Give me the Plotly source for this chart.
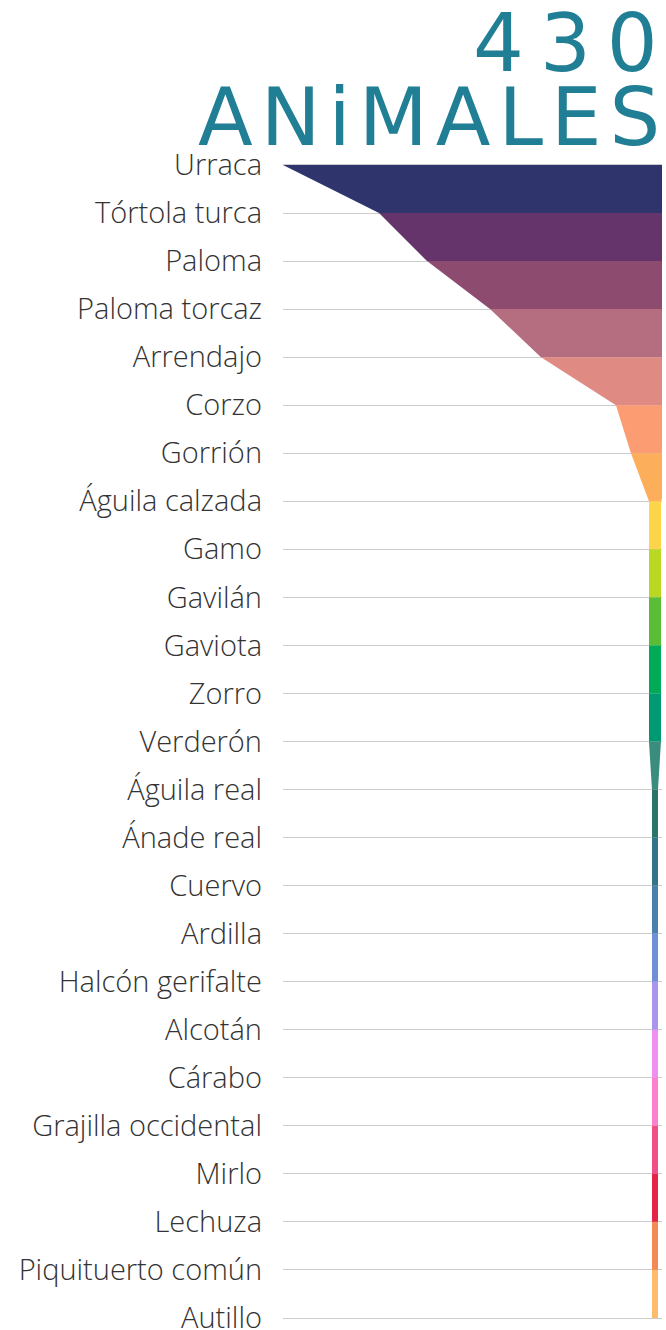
import plotly.graph_objects as go

categories = ["Urraca", "Tórtola turca", "Paloma", "Paloma torcaz", "Arrendajo", "Corzo",
              "Gorrión", "Águila calzada", "Gamo", "Gavilán", "Gaviota", "Zorro", "Verderón",
              "Águila real", "Ánade real", "Cuervo", "Ardilla", "Halcón gerifalte", "Alcotán",
              "Cárabo", "Grajilla occidental", "Mirlo", "Lechuza", "Piquituerto común", "Autillo"]
values = [124, 92, 76, 55, 38, 13, 8, 2, 2, 2, 2, 2, 2,
          1, 1, 1, 1, 1, 1, 1, 1, 1, 1, 1, 1]
band_colors = ["#2f346c", "#64346a", "#8c4b6f", "#b56e80", "#e08a84", "#fb9c73",
               "#fdae5a", "#fed44a", "#b8d823", "#5bbd35", "#00ab57", "#009a72",
               "#3a8c7c", "#2b7468", "#327488", "#4a80ab", "#6f8fd8", "#a995ec",
               "#ee90f0", "#fb80d0", "#f04f88", "#e5244a", "#f28b55", "#fdbc6b"]
title_number = "430"
title_word = "ANiMALES"

fig = go.Figure()
for i in range(len(categories) - 1):
    a, b = values[i] / 2, values[i + 1] / 2
    fig.add_trace(go.Scatter(
        x=[-a, -b, b, a, -a],
        y=[categories[i], categories[i + 1], categories[i + 1], categories[i], categories[i]],
        mode="lines", fill="toself", fillcolor=band_colors[i],
        line=dict(width=0, color=band_colors[i]), hoverinfo="skip", showlegend=False))

n = len(categories)
fig.update_layout(
    width=666, height=1330,
    margin=dict(l=283, r=4, t=155, b=2),
    paper_bgcolor="white", plot_bgcolor="white",
    xaxis=dict(range=[-values[0] / 2, 1.17], showgrid=False, zeroline=False,
               showticklabels=False, showline=False, fixedrange=True, automargin=False),
    yaxis=dict(type="category", categoryorder="array", categoryarray=categories,
               range=[n - 1 + 0.208, -0.208], showgrid=True, gridcolor="#cccccc", gridwidth=1,
               zeroline=False, showline=False, ticks="", ticklabelstandoff=20, automargin=False,
               tickfont=dict(family="Open Sans", size=29, color="#333333", weight=300)),
    annotations=[
        dict(text="\u2009".join(title_number), xref="paper", yref="paper", x=0.9947, y=1.095,
             xanchor="right", yanchor="middle", showarrow=False,
             font=dict(family="DejaVu Sans", size=80, color="#217f95")),
        dict(text="\u200a".join(title_word), xref="paper", yref="paper", x=1.0, y=1.032,
             xanchor="right", yanchor="middle", showarrow=False,
             font=dict(family="DejaVu Sans", size=80, color="#217f95")),
    ],
)
fig.write_html("out.html", config={"displayModeBar": False},
               post_script="document.body.style.margin='0';document.body.style.overflow='hidden';")
